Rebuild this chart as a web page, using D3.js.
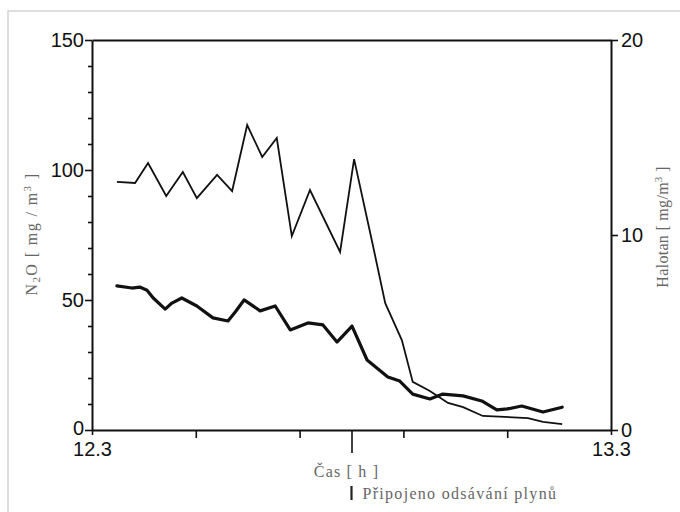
<!DOCTYPE html>
<html>
<head>
<meta charset="utf-8">
<script src="https://cdn.jsdelivr.net/npm/d3@7/dist/d3.min.js"></script>
<style>
  html, body { margin: 0; padding: 0; background: #fff; }
  svg { display: block; }
</style>
</head>
<body>
<svg id="chart" width="680" height="512"></svg>
<script>
// ---- data ----
// N2O concentration [mg/m3], thin line, left axis
const n2oTime = [12.348,12.383,12.408,12.443,12.475,12.502,12.541,12.570,12.599,12.628,12.656,12.685,12.720,12.778,12.805,12.839,12.865,12.897,12.918,12.951,12.986,13.015,13.053,13.140,13.169,13.206];
const n2oValue = [95.4,95.0,102.7,90.0,99.2,89.2,98.1,91.9,117.3,105.0,112.3,74.6,92.3,68.5,104.2,73.1,48.8,34.6,18.5,15.0,10.4,8.8,5.4,4.6,3.1,2.3];
// Halotan concentration [mg/m3], thick line, right axis
const halTime = [12.348,12.377,12.392,12.406,12.418,12.441,12.454,12.473,12.502,12.533,12.562,12.576,12.593,12.624,12.653,12.682,12.716,12.745,12.772,12.801,12.830,12.870,12.893,12.918,12.951,12.976,13.015,13.051,13.080,13.100,13.128,13.169,13.206];
const halValue = [7.39,7.28,7.33,7.17,6.77,6.20,6.51,6.77,6.36,5.75,5.59,6.05,6.67,6.11,6.36,5.13,5.49,5.39,4.51,5.33,3.59,2.72,2.51,1.84,1.59,1.84,1.75,1.49,1.03,1.08,1.23,0.92,1.17];
// axes
const xDomain = [12.3, 13.3];
const xLabelTicks = [12.3, 13.3];
const xMinorTicks = [12.5, 12.7, 12.9, 13.1];
const markerTime = 12.8; // "Připojeno odsávání plynů"
const leftDomain = [0, 150];
const leftLabelTicks = [0, 50, 100, 150];
const leftMinorTicks = [10,20,30,40,60,70,80,90,110,120,130,140];
const rightDomain = [0, 20];
const rightLabelTicks = [0, 10, 20];
const xTitle = "\u010Cas [ h ]";
const markerText = "P\u0159ipojeno ods\u00E1v\u00E1n\u00ED plyn\u016F";

// ---- layout ----
const L = 92, R = 611, T = 40, B = 430;
const SANS = "'Liberation Sans', Arial, Helvetica, sans-serif";
const SERIF = "'Liberation Serif', 'DejaVu Serif', 'Times New Roman', serif";
const svg = d3.select("#chart");

const x = d3.scaleLinear().domain(xDomain).range([L, R]);
const yL = d3.scaleLinear().domain(leftDomain).range([B, T]);
const yR = d3.scaleLinear().domain(rightDomain).range([B, T]);

// light scan frame
svg.append("path").attr("d", `M8,512 L8,11 L680,11`)
  .attr("fill", "none").attr("stroke", "#d4d4d4").attr("stroke-width", 1.5);

const axisStroke = g => {
  g.select(".domain").attr("stroke", "#111").attr("stroke-width", 2);
  g.selectAll(".tick line").attr("stroke", "#111").attr("stroke-width", 1.6);
};
const lblStyle = g => g.selectAll(".tick text")
  .style("font-family", SANS).style("font-size", "20px").style("fill", "#111");

// left axis: minor ticks
svg.append("g").attr("transform", `translate(${L},0)`)
  .call(d3.axisLeft(yL).tickValues(leftMinorTicks).tickSize(4).tickFormat("").tickSizeOuter(0))
  .call(axisStroke).call(g => g.select(".domain").remove());
// left axis: labelled ticks
svg.append("g").attr("transform", `translate(${L},0)`)
  .call(d3.axisLeft(yL).tickValues(leftLabelTicks).tickSize(7).tickPadding(1).tickSizeOuter(0))
  .call(axisStroke).call(lblStyle)
  .call(g => g.selectAll(".tick text").filter(d => d === 0).attr("dy", "0.22em"));

// right axis
svg.append("g").attr("transform", `translate(${R},0)`)
  .call(d3.axisRight(yR).tickValues(rightLabelTicks).tickSize(7).tickPadding(3).tickSizeOuter(0))
  .call(axisStroke).call(lblStyle)
  .call(g => g.selectAll(".tick text").filter(d => d === 0).attr("dy", "0.3em"));

// top border
svg.append("g").attr("transform", `translate(0,${T})`)
  .call(d3.axisTop(x).tickValues([]).tickSizeOuter(0))
  .call(axisStroke);

// bottom axis: minor ticks
svg.append("g").attr("transform", `translate(0,${B})`)
  .call(d3.axisBottom(x).tickValues(xMinorTicks).tickSize(8).tickFormat("").tickSizeOuter(0))
  .call(axisStroke);
// bottom axis: end labels
svg.append("g").attr("transform", `translate(0,${B})`)
  .call(d3.axisBottom(x).tickValues(xLabelTicks).tickSize(5).tickPadding(7).tickFormat(d3.format(".1f")).tickSizeOuter(0))
  .call(axisStroke).call(lblStyle)
  .call(g => g.select(".domain").remove());
// marker tick
svg.append("g").attr("transform", `translate(0,${B})`)
  .call(d3.axisBottom(x).tickValues([markerTime]).tickSize(23).tickFormat("").tickSizeOuter(0))
  .call(axisStroke)
  .call(g => g.select(".domain").remove());

// ---- series ----
const n2oData = n2oTime.map((t, i) => [t, n2oValue[i]]);
const halData = halTime.map((t, i) => [t, halValue[i]]);

svg.append("path").datum(n2oData)
  .attr("fill", "none").attr("stroke", "#111").attr("stroke-width", 1.8)
  .attr("stroke-linejoin", "miter")
  .attr("d", d3.line().x(d => x(d[0])).y(d => yL(d[1])));

svg.append("path").datum(halData)
  .attr("fill", "none").attr("stroke", "#111").attr("stroke-width", 3.2)
  .attr("stroke-linejoin", "round").attr("stroke-linecap", "round")
  .attr("d", d3.line().x(d => x(d[0])).y(d => yR(d[1])));

// ---- titles ----
const ttl = sel => sel.style("font-family", SERIF).style("font-size", "16px").style("fill", "#666");

const lt = svg.append("text").call(ttl)
  .attr("transform", `translate(37,234) rotate(-90)`)
  .attr("text-anchor", "middle").attr("letter-spacing", "1.4px");
lt.append("tspan").text("N");
lt.append("tspan").style("font-size", "11px").attr("dy", 3).text("2");
lt.append("tspan").attr("dy", -3).text("O [ mg / m");
lt.append("tspan").style("font-size", "11px").attr("dy", -6).text("3");
lt.append("tspan").attr("dy", 6).text(" ]");

const rt = svg.append("text").call(ttl)
  .attr("transform", `translate(668,227) rotate(-90)`)
  .attr("text-anchor", "middle").attr("letter-spacing", "0.3px");
rt.append("tspan").text("Halotan [ mg/m");
rt.append("tspan").style("font-size", "11px").attr("dy", -6).text("3");
rt.append("tspan").attr("dy", 6).text(" ]");

svg.append("text").call(ttl)
  .attr("x", (313 + 380) / 2).attr("y", 477)
  .attr("text-anchor", "middle").attr("letter-spacing", "1.2px")
  .text(xTitle);

// event marker legend
svg.append("line")
  .attr("x1", x(markerTime)).attr("x2", x(markerTime))
  .attr("y1", 486).attr("y2", 500)
  .attr("stroke", "#222").attr("stroke-width", 2.2);
svg.append("text").call(ttl)
  .attr("x", x(markerTime) + 11).attr("y", 499)
  .attr("letter-spacing", "1.3px")
  .text(markerText);
</script>
</body>
</html>
